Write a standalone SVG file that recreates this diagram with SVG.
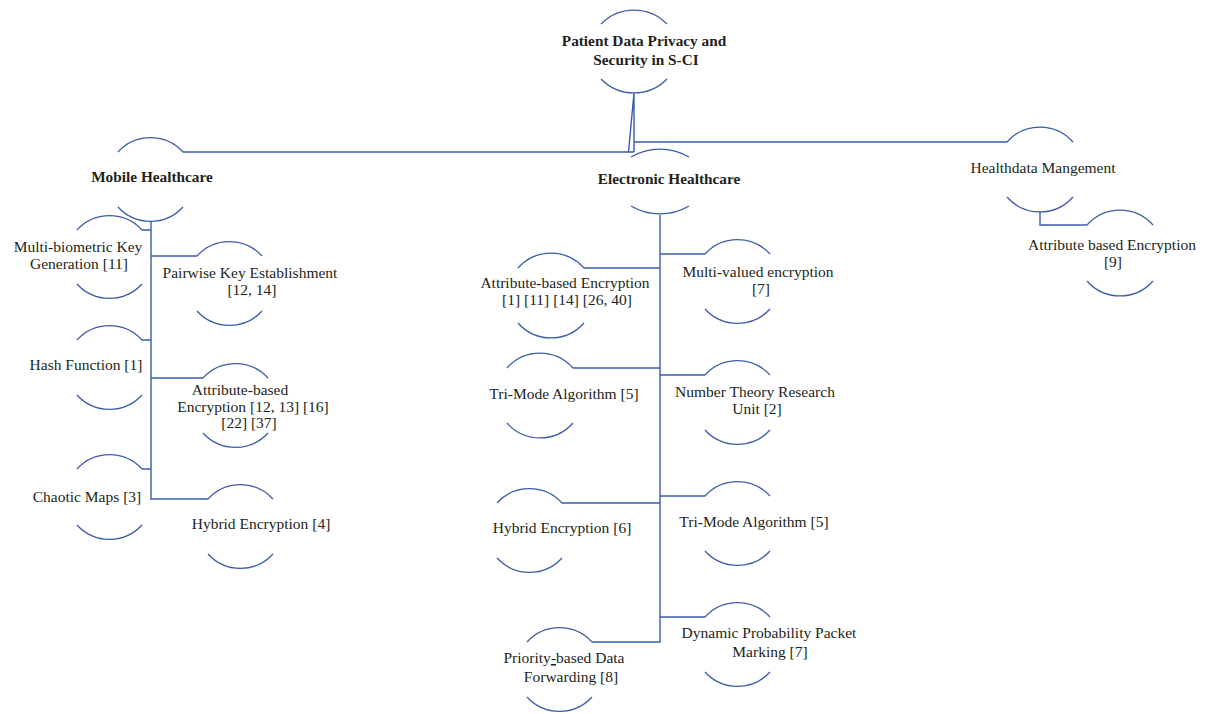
<svg xmlns="http://www.w3.org/2000/svg" width="1210" height="714" viewBox="0 0 1210 714">
<style>
.arc{fill:none;stroke:#3b5ca8;stroke-width:1.3}
.ln{fill:none;stroke:#3b5ca8;stroke-width:1.4}
text{font-family:"Liberation Serif","Times New Roman",serif;font-size:15.5px;fill:#231f20;text-anchor:middle}
.b{font-weight:bold;font-size:15.3px}
</style>
<rect width="1210" height="714" fill="#ffffff"/>
<g id="connectors">
<path class="ln" d="M634,93 V152 M634,93 L628.5,152 M634,152 H183 M634,142 H1007"/>
<path class="ln" d="M151,221 V499 H208 M142,230 H151 M151,256 H197 M142,340 H151 M151,378 H203 M142,469 H151"/>
<path class="ln" d="M660,215 V642 H592 M584,268 H660 M660,254 H705 M573,368 H660 M660,375 H705 M562,503 H660 M660,496 H705 M660,617 H705"/>
<path class="ln" d="M1040,212 V225 H1087"/>
</g>
<g id="root">
<path class="arc" d="M601,24 A46,46 0 0 1 667,24"/>
<path class="arc" d="M601,79 A46,46 0 0 0 667,79"/>
<text class="b" x="644" y="46">Patient Data Privacy and</text>
<text class="b" x="646" y="65">Security in S-CI</text>
</g>
<g id="mobile">
<path class="arc" d="M118,152 A44,44 0 0 1 183,152"/>
<path class="arc" d="M118,207 A44,44 0 0 0 183,207"/>
<text class="b" x="152" y="182">Mobile Healthcare</text>
</g>
<g id="electronic">
<path class="arc" d="M631,157 A57,57 0 0 1 689,157"/>
<path class="arc" d="M631,206 A57,57 0 0 0 689,206"/>
<text class="b" x="669" y="184">Electronic Healthcare</text>
</g>
<g id="healthdata">
<path class="arc" d="M1007,142 A44,44 0 0 1 1073,142"/>
<path class="arc" d="M1007,197 A44,44 0 0 0 1073,197"/>
<text x="1043" y="173">Healthdata Mangement</text>
</g>
<g id="hd-abe">
<path class="arc" d="M1087,225 A44,44 0 0 1 1153,225"/>
<path class="arc" d="M1087,281 A44,44 0 0 0 1153,281"/>
<text x="1112" y="250">Attribute based Encryption</text>
<text x="1113" y="267">[9]</text>
</g>
<g id="m-multibio">
<path class="arc" d="M77,230 A44,44 0 0 1 142,230"/>
<path class="arc" d="M77,284 A44,44 0 0 0 142,284"/>
<text x="78" y="252">Multi-biometric Key</text>
<text x="79" y="269">Generation [11]</text>
</g>
<g id="m-pairwise">
<path class="arc" d="M197,256 A44,44 0 0 1 262,256"/>
<path class="arc" d="M197,311 A44,44 0 0 0 262,311"/>
<text x="250" y="278">Pairwise Key Establishment</text>
<text x="252" y="295">[12, 14]</text>
</g>
<g id="m-hash">
<path class="arc" d="M77,340 A44,44 0 0 1 142,340"/>
<path class="arc" d="M77,395 A44,44 0 0 0 142,395"/>
<text x="86" y="370">Hash Function [1]</text>
</g>
<g id="m-abe">
<path class="arc" d="M203,378 A44,44 0 0 1 268,378"/>
<path class="arc" d="M203,433 A44,44 0 0 0 268,433"/>
<text x="240" y="395">Attribute-based</text>
<text x="253" y="412">Encryption [12, 13] [16]</text>
<text x="249" y="428">[22] [37]</text>
</g>
<g id="m-chaotic">
<path class="arc" d="M77,469 A44,44 0 0 1 142,469"/>
<path class="arc" d="M77,525 A44,44 0 0 0 142,525"/>
<text x="87" y="502">Chaotic Maps [3]</text>
</g>
<g id="m-hybrid">
<path class="arc" d="M208,499 A44,44 0 0 1 273,499"/>
<path class="arc" d="M208,554 A44,44 0 0 0 273,554"/>
<text x="261" y="529">Hybrid Encryption [4]</text>
</g>
<g id="e-abe">
<path class="arc" d="M518,268 A44,44 0 0 1 584,268"/>
<path class="arc" d="M518,323 A44,44 0 0 0 584,323"/>
<text x="565" y="288">Attribute-based Encryption</text>
<text x="567" y="305">[1] [11] [14] [26, 40]</text>
</g>
<g id="e-multival">
<path class="arc" d="M705,254 A44,44 0 0 1 770,254"/>
<path class="arc" d="M705,309 A44,44 0 0 0 770,309"/>
<text x="758" y="277">Multi-valued encryption</text>
<text x="761" y="294">[7]</text>
</g>
<g id="e-trimode-l">
<path class="arc" d="M507,368 A44,44 0 0 1 573,368"/>
<path class="arc" d="M507,423 A44,44 0 0 0 573,423"/>
<text x="564" y="399">Tri-Mode Algorithm [5]</text>
</g>
<g id="e-numtheory">
<path class="arc" d="M705,375 A44,44 0 0 1 770,375"/>
<path class="arc" d="M705,430 A44,44 0 0 0 770,430"/>
<text x="755" y="397">Number Theory Research</text>
<text x="757" y="414">Unit [2]</text>
</g>
<g id="e-hybrid">
<path class="arc" d="M497,503 A44,44 0 0 1 562,503"/>
<path class="arc" d="M497,558 A44,44 0 0 0 562,558"/>
<text x="562" y="533">Hybrid Encryption [6]</text>
</g>
<g id="e-trimode-r">
<path class="arc" d="M705,496 A44,44 0 0 1 770,496"/>
<path class="arc" d="M705,551 A44,44 0 0 0 770,551"/>
<text x="754" y="527">Tri-Mode Algorithm [5]</text>
</g>
<g id="e-dppm">
<path class="arc" d="M705,617 A44,44 0 0 1 770,617"/>
<path class="arc" d="M705,672 A44,44 0 0 0 770,672"/>
<text x="769" y="638">Dynamic Probability Packet</text>
<text x="770" y="657">Marking [7]</text>
</g>
<g id="e-priority">
<path class="arc" d="M527,642 A44,44 0 0 1 592,642"/>
<path class="arc" d="M527,697 A44,44 0 0 0 592,697"/>
<text x="564" y="663">Priority<tspan text-decoration="underline">-</tspan>based Data</text>
<text x="571" y="682">Forwarding [8]</text>
</g>
</svg>
